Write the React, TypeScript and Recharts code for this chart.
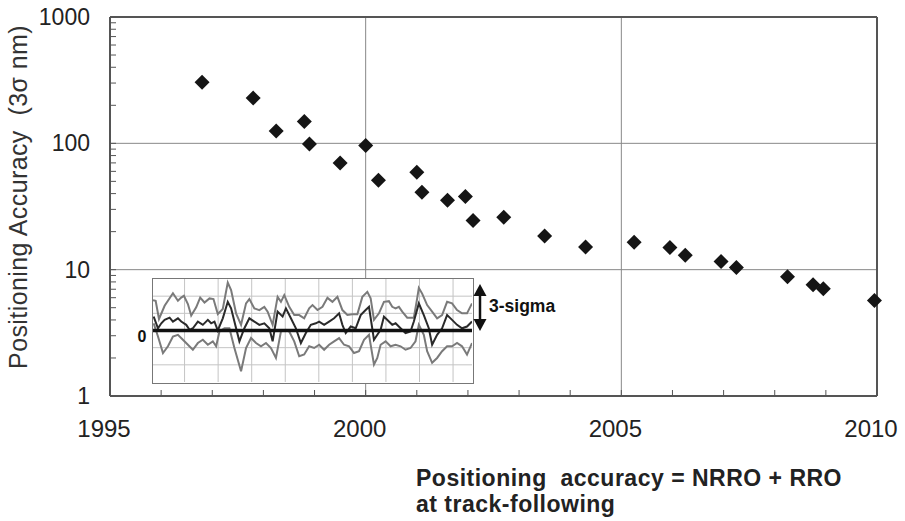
import React from "react";
import { Line, LineChart, ReferenceLine, Scatter, ScatterChart, XAxis, YAxis } from "recharts";

// main scatter: year of product vs positioning accuracy (3 sigma, nm)
const years = [
  1996.8, 1997.8, 1998.25, 1998.8, 1998.9, 1999.5, 2000.0, 2000.25, 2001.0, 2001.1, 2001.6, 2001.95, 2002.1,
  2002.7, 2003.5, 2004.3, 2005.25, 2005.95, 2006.25, 2006.95, 2007.25, 2008.25, 2008.75, 2008.95, 2009.95,
];
const accuracy = [
  305, 228, 125, 149, 99, 70, 96, 51, 59, 41, 35.5, 38, 24.5, 26, 18.5, 15.1, 16.5, 15, 13, 11.6, 10.4, 8.8,
  7.6, 7.05, 5.7,
];

const xTicks = [1995, 1996, 1997, 1998, 1999, 2000, 2001, 2002, 2003, 2004, 2005, 2006, 2007, 2008, 2009, 2010];
const yTicks = [
  1, 2, 3, 4, 5, 6, 7, 8, 9, 10, 20, 30, 40, 50, 60, 70, 80, 90, 100, 200, 300, 400, 500, 600, 700, 800, 900,
  1000,
];
const xGrid = [2000, 2005];
const yGrid = [10, 100];

// inset: position error trace, [time, amplitude]
const upperTrace = [
  [0, 1.77], [0.8, 1.73], [1.8, 0.67], [3.5, 1.44], [6, 2.17], [7.5, 1.73], [8.5, 1.92], [9.3, 2.02],
  [10.5, 1.54], [11.5, 0.87], [13, 1.35], [14.2, 1.92], [15.5, 1.63], [17, 1.87], [18.2, 1.83], [19.5, 0.96],
  [21, 1.25], [22.5, 2.79], [23.5, 2.35], [25, 1.0], [26.5, 0.33], [28, 1.58], [29, 1.83], [30.5, 1.29],
  [32, 1.19], [33.5, 1.38], [34.5, 1.1], [36, 0.33], [37.5, 1.96], [38.5, 1.67], [39.5, 2.06], [41, 1.38],
  [42.5, 0.9], [44, 0.9], [45.5, 0.71], [47, 1.29], [48, 1.48], [49.5, 1.19], [51, 1.38], [52.5, 1.9],
  [54, 1.67], [55.5, 1.96], [57, 1.19], [58.5, 0.9], [60, 0.94], [61.5, 0.94], [63, 1.96], [64.5, 2.25],
  [65.5, 1.87], [66.5, 0.62], [68, 1.0], [69.5, 1.67], [71, 1.71], [72, 1.38], [73, 1.29], [74, 1.38],
  [75, 1.1], [76.5, 0.75], [78.5, 0.75], [79.5, 1.87], [80, 2.48], [81, 2.15], [82.5, 1.48], [84, 1.1],
  [85.5, 0.71], [87, 0.9], [88.5, 1.67], [90, 1.58], [91.5, 1.19], [93, 1.0], [94.5, 1.0], [96, 1.58],
];
const meanTrace = [
  [0.2, 0.81], [1.5, 0.13], [2.5, 0.42], [3.5, 0.62], [5, 0.75], [6, 0.52], [7.5, 0.71], [8.5, 0.52],
  [10, 0.33], [11, 0.04], [12, 0.13], [13.5, 0.52], [15, 0.33], [16.5, 0.62], [17.5, 0.42], [18.5, 0.52],
  [19.5, 0], [21, 0.71], [22.5, 1.67], [23.5, 1.29], [24.5, 0.52], [26, -0.63], [27.5, 0.13], [29, 0.71],
  [30.5, 0.52], [32, 0.33], [33.5, 0.42], [35, 0.13], [36, -0.63], [37.5, 1.1], [39, 0.81], [40, 1.29],
  [41.5, 0.71], [43, 0.13], [44.5, -0.73], [46, -0.15], [47.5, 0.33], [49, 0.42], [50, 0.52], [51.5, 0.33],
  [53, 0.52], [54.5, 0.71], [56, 1.0], [57, 0.33], [58, -0.15], [59.5, 0.23], [61, 0.13], [62.5, 0.9],
  [64, 1.19], [65, 1.38], [66.5, -0.54], [67.5, -0.25], [68.5, 0.04], [69.5, 0.81], [71, 0.52], [72, 0.33],
  [73, 0.42], [74.5, 0.13], [76, -0.15], [77.5, -0.06], [78.5, 0.52], [80, 1.58], [81.5, 0.9], [83, 0.13],
  [84, -0.83], [85.5, -0.25], [87, 0.13], [88.5, 0.9], [90, 0.62], [91.5, 0.33], [93, 0.13], [94.5, 0.23],
  [96, 0.52],
];
const lowerTrace = [
  [0.2, 0.42], [1.5, -0.35], [3, -1.31], [4.5, -0.92], [6, -0.35], [7.5, -0.25], [9, -0.54], [10.5, -0.83],
  [12, -1.12], [13.5, -0.73], [15, -0.54], [16.5, -0.83], [18, -0.63], [19, -0.92], [20, -0.06], [21.5, 0.13],
  [23, 0.13], [24.5, -1.02], [26.5, -2.37], [28, -1.02], [29.5, -0.44], [31, -0.73], [32.5, -0.92],
  [34, -0.73], [35.5, -1.02], [37, -1.6], [38.5, -0.06], [40, 0.04], [41, -0.06], [42.5, -0.63], [44, -1.5],
  [45.5, -1.4], [47, -0.92], [48.5, -1.02], [50, -0.83], [51.5, -1.12], [53, -0.83], [54.5, -0.63],
  [56, -0.44], [57.5, -0.83], [59, -0.92], [60.5, -1.31], [62, -1.21], [63.5, -0.54], [65, -0.25],
  [66.5, -1.98], [67.5, -1.6], [68.5, -0.83], [70, -0.63], [71.5, -0.92], [73, -0.83], [74.5, -0.92],
  [76, -1.12], [77.5, -1.02], [79, -0.63], [80, 0.33], [81.5, -0.25], [82.5, -1.21], [84, -1.88],
  [85.5, -1.6], [87, -1.21], [88.5, -0.92], [90, -0.92], [91.5, -0.73], [93, -0.92], [94.5, -1.4],
  [96, -0.73],
];
const insetXGrid = [9.5, 19.6, 29.7, 39.8, 49.9, 60, 70.1, 80.2, 90.3];
const insetYGrid = [-2, -1, 1, 2];

const FONT = "'Liberation Sans', Arial, Helvetica, sans-serif";

const points = years.map((year, i) => ({ year, value: accuracy[i] }));
const toRows = (trace: number[][]) => trace.map(([t, v]) => ({ t, v }));

function Diamond(props: any) {
  const { cx, cy } = props;
  const r = 7.5;
  return <path d={`M${cx},${cy - r}L${cx + r},${cy}L${cx},${cy + r}L${cx - r},${cy}Z`} fill="#151515" />;
}

function Inset() {
  return (
    <div
      style={{
        position: "absolute",
        left: 152,
        top: 278,
        width: 322,
        height: 106,
        border: "1.5px solid #777",
        boxSizing: "border-box",
        background: "#fff",
      }}
    >
      <LineChart width={319} height={103} margin={{ top: 0, right: 0, bottom: 0, left: 0 }}>
        <XAxis type="number" dataKey="t" domain={[0, 96]} hide />
        <YAxis type="number" domain={[-3, 3]} hide />
        {insetXGrid.map((x) => (
          <ReferenceLine key={"x" + x} x={x} stroke="#c4c4c4" strokeWidth={1} />
        ))}
        {insetYGrid.map((y) => (
          <ReferenceLine key={"y" + y} y={y} stroke="#c4c4c4" strokeWidth={1} />
        ))}
        <Line data={toRows(upperTrace)} dataKey="v" stroke="#7a7a7a" strokeWidth={2} dot={false} isAnimationActive={false} />
        <Line data={toRows(lowerTrace)} dataKey="v" stroke="#7a7a7a" strokeWidth={2} dot={false} isAnimationActive={false} />
        <Line data={toRows(meanTrace)} dataKey="v" stroke="#2a2a2a" strokeWidth={2} dot={false} isAnimationActive={false} />
        <ReferenceLine y={0} stroke="#111" strokeWidth={3.5} />
      </LineChart>
    </div>
  );
}

export default function App() {
  return (
    <div style={{ position: "absolute", left: 0, top: 0, width: 905, height: 521, background: "#fff", fontFamily: FONT }}>
      <ScatterChart width={905} height={521} margin={{ top: 17, right: 28, left: 10, bottom: 65 }}>
        <XAxis
          type="number"
          dataKey="year"
          domain={[1995, 2010]}
          ticks={xTicks}
          interval={0}
          height={60}
          tickSize={-6}
          tickMargin={30}
          tickFormatter={(v: number) => (v % 5 === 0 ? String(v) : "")}
          tick={{ fontSize: 24, fill: "#222", fontFamily: FONT, dx: -6 }}
          axisLine={{ stroke: "#555", strokeWidth: 2 }}
          tickLine={{ stroke: "#555" }}
        />
        <YAxis
          type="number"
          dataKey="value"
          scale="log"
          domain={[1, 1000]}
          allowDataOverflow
          ticks={yTicks}
          interval={0}
          width={100}
          tickSize={-6}
          tickMargin={26}
          tickFormatter={(v: number) => ([1, 10, 100, 1000].includes(v) ? String(v) : "")}
          tick={{ fontSize: 23, fill: "#222", fontFamily: FONT }}
          axisLine={{ stroke: "#555", strokeWidth: 2 }}
          tickLine={{ stroke: "#555" }}
        />
        {xGrid.map((x) => (
          <ReferenceLine key={"gx" + x} x={x} stroke="#888" strokeWidth={1} />
        ))}
        {yGrid.map((y) => (
          <ReferenceLine key={"gy" + y} y={y} stroke="#888" strokeWidth={1} />
        ))}
        <ReferenceLine x={2010} stroke="#555" strokeWidth={2} />
        <ReferenceLine y={1000} stroke="#555" strokeWidth={2} />
        <Scatter data={points} shape={<Diamond />} isAnimationActive={false} />
      </ScatterChart>
      <Inset />
      <svg width={905} height={521} style={{ position: "absolute", left: 0, top: 0, pointerEvents: "none" }}>
        <text
          transform="translate(27,197) rotate(-90)"
          textAnchor="middle"
          fontSize={25}
          letterSpacing={0.4}
          fill="#333"
          fontFamily={FONT}
          style={{ whiteSpace: "pre" }}
        >
          {"Positioning Accuracy  (3σ nm)"}
        </text>
        <text x={142} y={342} textAnchor="middle" fontSize={16} fontWeight="bold" fill="#111" fontFamily={FONT}>
          0
        </text>
        <line x1={480} y1={292} x2={480} y2={323} stroke="#111" strokeWidth={2.5} />
        <polygon points="480,284 473.5,296 486.5,296" fill="#111" />
        <polygon points="480,331 473.5,319 486.5,319" fill="#111" />
        <text x={489} y={312} fontSize={17.5} fontWeight="bold" fill="#111" fontFamily={FONT}>
          3-sigma
        </text>
        <text
          x={416}
          y={486}
          fontSize={23}
          letterSpacing={0.5}
          fontWeight="bold"
          fill="#222"
          fontFamily={FONT}
          style={{ whiteSpace: "pre" }}
        >
          {"Positioning  accuracy = NRRO + RRO"}
        </text>
        <text x={416} y={512} fontSize={23} letterSpacing={0.5} fontWeight="bold" fill="#222" fontFamily={FONT}>
          at track-following
        </text>
      </svg>
    </div>
  );
}
